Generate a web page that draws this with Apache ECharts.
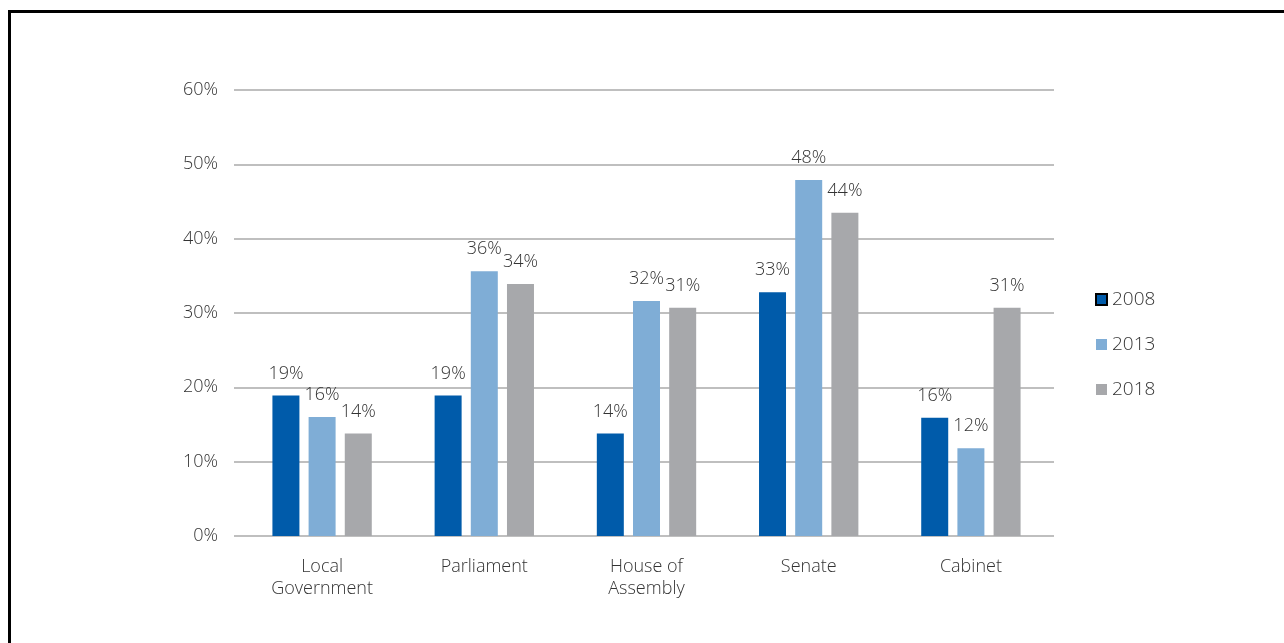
<!DOCTYPE html>
<html>
<head>
<meta charset="utf-8">
<script src="https://cdn.jsdelivr.net/npm/echarts@6/dist/echarts.min.js"></script>
<style>
html, body { margin: 0; padding: 0; background: #fff; overflow: hidden; }
#frame { position: absolute; left: 8px; top: 10px; width: 1400px; height: 800px; border-left: 3px solid #000; border-top: 3px solid #000; }
#container { position: absolute; left: 0; top: 0; width: 1284px; height: 643px; }
</style>
</head>
<body>
<div id="frame"></div>
<div id="container"></div>
<script>
var categories = ['Local\nGovernment', 'Parliament', 'House of\nAssembly', 'Senate', 'Cabinet'];
var years = ['2008', '2013', '2018'];
var values2008 = [18.9, 18.9, 13.8, 32.8, 15.9];
var values2013 = [16.0, 35.6, 31.6, 47.9, 11.8];
var values2018 = [13.8, 33.9, 30.7, 43.5, 30.7];
var yTicks = [0, 10, 20, 30, 40, 50, 60];

var colors = ['#005BAA', '#7FADD6', '#A7A8AB'];
var font = "'Open Sans', 'Noto Sans', sans-serif";
var textColor = '#333333';

var dom = document.getElementById("container");
var myChart = echarts.init(dom);

function makeSeries(name, data, color) {
    return {
        name: name,
        type: 'bar',
        xAxisIndex: 1,
        yAxisIndex: 1,
        barWidth: 27,
        barGap: '34%',
        data: data,
        itemStyle: { color: color },
        label: {
            show: true,
            position: 'top',
            distance: 13,
            color: textColor,
            fontFamily: font,
            fontWeight: 300,
            fontSize: 18,
            formatter: function (p) { return Math.round(p.value) + '%'; }
        }
    };
}

var option = {
    animation: false,
    textStyle: { fontFamily: font, fontWeight: 300 },
    legend: {
        orient: 'vertical',
        left: 1090,
        top: 285,
        itemWidth: 11,
        itemHeight: 11,
        itemGap: 26,
        icon: 'rect',
        textStyle: { color: textColor, fontSize: 19, fontWeight: 300, fontFamily: font },
        data: [
            { name: years[0], itemStyle: { borderColor: '#000', borderWidth: 2 } },
            { name: years[1] },
            { name: years[2] }
        ]
    },
    // grid 0 carries the gridlines, grid 1 (slightly narrower) carries the bars
    grid: [
        { left: 234, right: 230, top: 90, bottom: 107 },
        { left: 241, right: 232, top: 90, bottom: 107 }
    ],
    xAxis: [
        {
            gridIndex: 0,
            type: 'category',
            data: categories,
            show: false
        },
        {
            gridIndex: 1,
            type: 'category',
            data: categories,
            axisLine: { show: false },
            axisTick: { show: false },
            axisLabel: {
                color: textColor,
                fontSize: 18,
                fontWeight: 300,
                fontFamily: font,
                margin: 20,
                lineHeight: 22,
                interval: 0
            }
        }
    ],
    yAxis: [
        {
            gridIndex: 0,
            type: 'value',
            min: yTicks[0],
            max: yTicks[yTicks.length - 1],
            interval: 10,
            axisLine: { show: false },
            axisTick: { show: false },
            splitLine: { lineStyle: { color: '#BFBFBF', width: 2 } },
            axisLabel: {
                color: textColor,
                fontSize: 18,
                fontWeight: 300,
                fontFamily: font,
                margin: 16,
                formatter: '{value}%'
            }
        },
        {
            gridIndex: 1,
            type: 'value',
            min: yTicks[0],
            max: yTicks[yTicks.length - 1],
            interval: 10,
            show: false,
            splitLine: { show: false }
        }
    ],
    series: [
        makeSeries(years[0], values2008, colors[0]),
        makeSeries(years[1], values2013, colors[1]),
        makeSeries(years[2], values2018, colors[2])
    ]
};
if (option && typeof option === "object") {
    myChart.setOption(option, true);
}
</script>
</body>
</html>
